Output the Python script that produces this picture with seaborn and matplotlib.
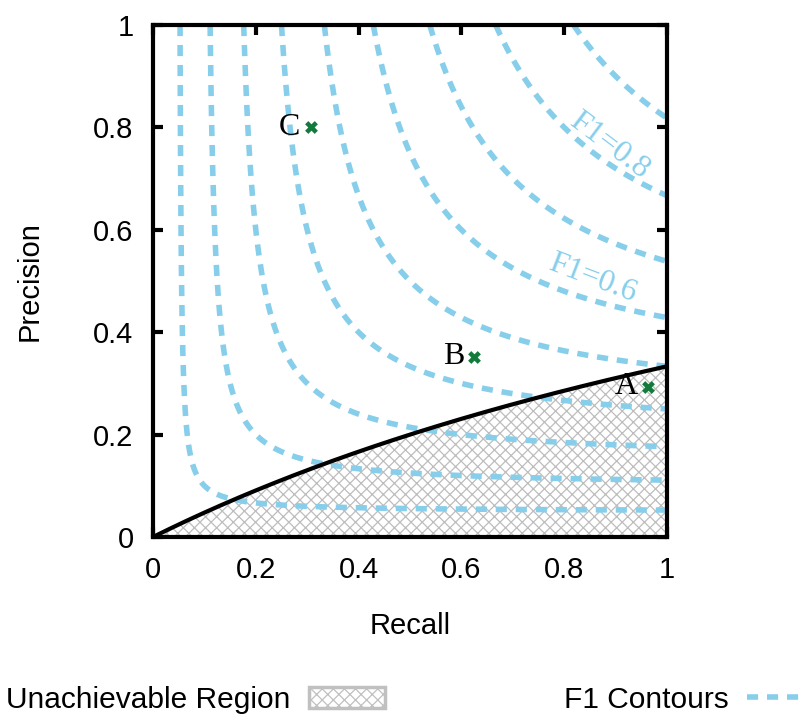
import numpy as np
import matplotlib
matplotlib.use("Agg")
import matplotlib.pyplot as plt
from matplotlib.patches import Patch
from matplotlib.lines import Line2D
import seaborn as sns

# Datos: niveles de F1, sesgo de la clase positiva y puntos marcados
f1_levels = [0.1, 0.2, 0.3, 0.4, 0.5, 0.6, 0.7, 0.8, 0.9]
skew = 1 / 3
point_names = ["A", "B", "C"]
point_recall = [0.963, 0.625, 0.307]
point_precision = [0.293, 0.352, 0.800]
label_levels = ["F1=0.8", "F1=0.6"]
label_recall = [0.888, 0.855]
label_precision = [0.765, 0.505]
label_angle = [-37, -21]
tick_values = [0, 0.2, 0.4, 0.6, 0.8, 1]
tick_labels = ["0", "0.2", "0.4", "0.6", "0.8", "1"]

sns.set_style("white")
plt.rcParams['font.family'] = ['Liberation Sans', 'DejaVu Sans']
plt.rcParams['hatch.linewidth'] = 0.9
plt.rcParams['text.color'] = 'black'
plt.rcParams['axes.labelcolor'] = 'black'

SKY = "#87ceeb"
GREEN = "#127a3a"
DASH = (0, (2.0, 1.6))

fig = plt.figure(figsize=(8.07, 7.15), dpi=100)
ax = fig.add_axes([153 / 807, 1 - 537 / 715, 514 / 807, 512 / 715])

# Región inalcanzable (precisión mínima para cada recall)
recall = np.linspace(0, 1, 400)
min_prec = skew * recall / (1 - skew + skew * recall)
ax.fill_between(recall, 0, min_prec, facecolor="white", edgecolor="#bdbdbd",
                hatch="xxx", linewidth=0, zorder=1)

# Contornos de F1
rr, pp = np.meshgrid(np.linspace(0.001, 1, 600), np.linspace(0.001, 1, 600))
f1 = 2 * pp * rr / (pp + rr)
ax.contour(rr, pp, f1, levels=f1_levels, colors=SKY, linewidths=4,
           linestyles=[DASH], zorder=2)

sns.lineplot(x=recall, y=min_prec, color="black", linewidth=3, ax=ax, zorder=3)

sns.scatterplot(x=point_recall, y=point_precision, marker="X", s=85, color=GREEN,
                linewidth=0, ax=ax, zorder=4)
for name, r, p in zip(point_names, point_recall, point_precision):
    ax.text(r - 0.02, p, name, ha="right", va="center", fontsize=23,
            family=["Liberation Serif"], zorder=5)

for txt, r, p, ang in zip(label_levels, label_recall, label_precision, label_angle):
    ax.text(r, p, txt, ha="center", va="center", rotation=ang, color=SKY,
            fontsize=23, family=["Liberation Serif"], zorder=5)

ax.set_xlim(0, 1)
ax.set_ylim(0, 1)
ax.set_xticks(tick_values)
ax.set_xticklabels(tick_labels)
ax.set_yticks(tick_values)
ax.set_yticklabels(tick_labels)
ax.tick_params(direction="in", length=7, width=3, top=True, right=True,
               bottom=True, left=True, labelsize=21, pad=14, colors="black")
for s in ax.spines.values():
    s.set_linewidth(3)
    s.set_color("black")
    s.set_zorder(6)
ax.set_xlabel("Recall", fontsize=21, labelpad=20)
ax.set_ylabel("Precision", fontsize=21, labelpad=36)

handles = [
    Patch(facecolor="white", edgecolor="#c0c0c0", hatch="xxx", linewidth=2.5),
    Line2D([], [], color=SKY, lw=4, linestyle=DASH),
]
fig.legend(handles, ["Unachievable Region", "F1 Contours"], loc="lower left",
           bbox_to_anchor=(5 / 807, 0.0), ncol=2, markerfirst=False, frameon=False,
           fontsize=21.5, handlelength=2.55, handletextpad=0.6, columnspacing=6.0,
           borderpad=0.05, borderaxespad=0)

fig.savefig("out.png", dpi=100)
